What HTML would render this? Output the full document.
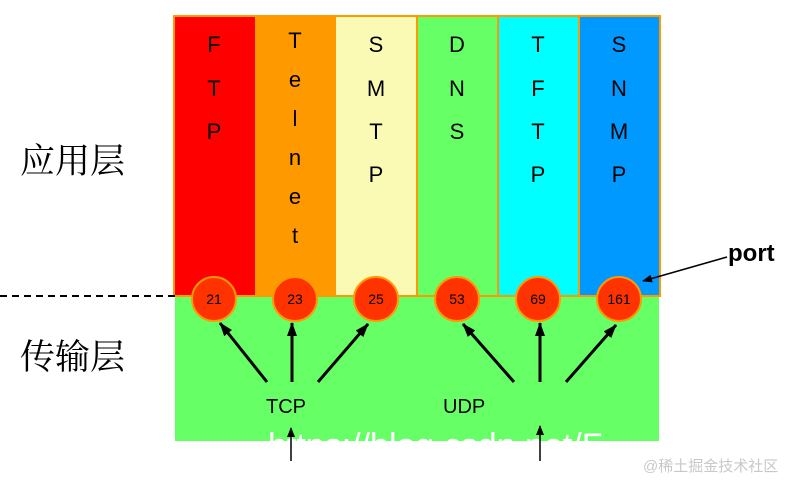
<!DOCTYPE html>
<html><head><meta charset="utf-8"><style>
html,body{margin:0;padding:0;background:#fff;}
svg{display:block}
</style></head><body>
<svg width="797" height="480" viewBox="0 0 797 480" xmlns="http://www.w3.org/2000/svg" font-family="Liberation Sans, sans-serif">
<defs>
<marker id="a" markerWidth="10" markerHeight="8" refX="9" refY="4" orient="auto" markerUnits="userSpaceOnUse"><path d="M0,0 L10,4 L0,8 z" fill="#000"/></marker>
<marker id="b" markerWidth="14" markerHeight="10" refX="13" refY="5" orient="auto" markerUnits="userSpaceOnUse"><path d="M0,0 L14,5 L0,10 z" fill="#000"/></marker>
<clipPath id="g"><rect x="175" y="296" width="484" height="145"/></clipPath>
</defs>
<rect x="175" y="296" width="484" height="145" fill="#66ff66"/>
<rect x="174" y="16" width="81" height="280" fill="#ff0000"/>
<rect x="255" y="16" width="81" height="280" fill="#ff9900"/>
<rect x="336" y="16" width="81" height="280" fill="#fafab4"/>
<rect x="417" y="16" width="81" height="280" fill="#66ff66"/>
<rect x="498" y="16" width="81" height="280" fill="#00ffff"/>
<rect x="579" y="16" width="81" height="280" fill="#0099ff"/>
<g stroke="#ff9900" stroke-width="2" fill="none">
<rect x="174" y="16" width="486" height="280"/>
<line x1="417" y1="16" x2="417" y2="296"/><line x1="498" y1="16" x2="498" y2="296"/><line x1="579" y1="16" x2="579" y2="296"/>
</g>
<line x1="0" y1="296" x2="175" y2="296" stroke="#000" stroke-width="2" stroke-dasharray="7,5"/>
<g font-size="22" text-anchor="middle" fill="#000">
<text x="214" y="52">F</text><text x="214" y="96">T</text><text x="214" y="139">P</text>
<text x="295" y="48">T</text><text x="295" y="87">e</text><text x="295" y="126">l</text><text x="295" y="165">n</text><text x="295" y="204">e</text><text x="295" y="243">t</text>
<text x="376" y="52">S</text><text x="376" y="96">M</text><text x="376" y="139">T</text><text x="376" y="182">P</text>
<text x="457" y="52">D</text><text x="457" y="96">N</text><text x="457" y="139">S</text>
<text x="538" y="52">T</text><text x="538" y="96">F</text><text x="538" y="139">T</text><text x="538" y="182">P</text>
<text x="619" y="52">S</text><text x="619" y="96">N</text><text x="619" y="139">M</text><text x="619" y="182">P</text>
</g>
<g font-family="Liberation Serif, Noto Serif CJK SC, serif" font-size="35" fill="#000">
<text x="20" y="173">应用层</text>
<text x="20" y="369">传输层</text>
</g>
<g fill="#ff3300" stroke="#ff9900" stroke-width="2">
<circle cx="214" cy="299" r="22"/><circle cx="295" cy="299" r="22"/><circle cx="376" cy="299" r="22"/>
<circle cx="457" cy="299" r="22"/><circle cx="538" cy="299" r="22"/><circle cx="619" cy="299" r="22"/>
</g>
<g font-size="14" text-anchor="middle" fill="#000">
<text x="214" y="304">21</text><text x="295" y="304">23</text><text x="376" y="304">25</text>
<text x="457" y="304">53</text><text x="538" y="304">69</text><text x="619" y="304">161</text>
</g>
<g stroke="#000" stroke-width="3" marker-end="url(#b)">
<line x1="267" y1="382" x2="220" y2="323"/>
<line x1="292" y1="382" x2="292" y2="323"/>
<line x1="318" y1="382" x2="368" y2="324"/>
<line x1="514" y1="382" x2="463" y2="324"/>
<line x1="540" y1="382" x2="540" y2="323"/>
<line x1="566" y1="382" x2="616" y2="325"/>
</g>
<g font-size="20" fill="#000">
<text x="266" y="413">TCP</text>
<text x="443" y="413">UDP</text>
</g>
<g clip-path="url(#g)"><text x="268" y="457" font-size="34" fill="#fff">https://blog.csdn.net/F</text></g>
<g stroke="#000" stroke-width="1.5" marker-end="url(#a)">
<line x1="291" y1="461" x2="291" y2="428"/>
<line x1="540" y1="461" x2="540" y2="426"/>
<line x1="727" y1="257" x2="643" y2="281"/>
</g>
<text x="728" y="261" font-size="24" font-weight="bold" fill="#000">port</text>
<text x="643" y="471" font-size="15" fill="#c8c8c8" font-family="Liberation Sans, Noto Sans CJK SC, sans-serif">@稀土掘金技术社区</text>
</svg>
</body></html>
